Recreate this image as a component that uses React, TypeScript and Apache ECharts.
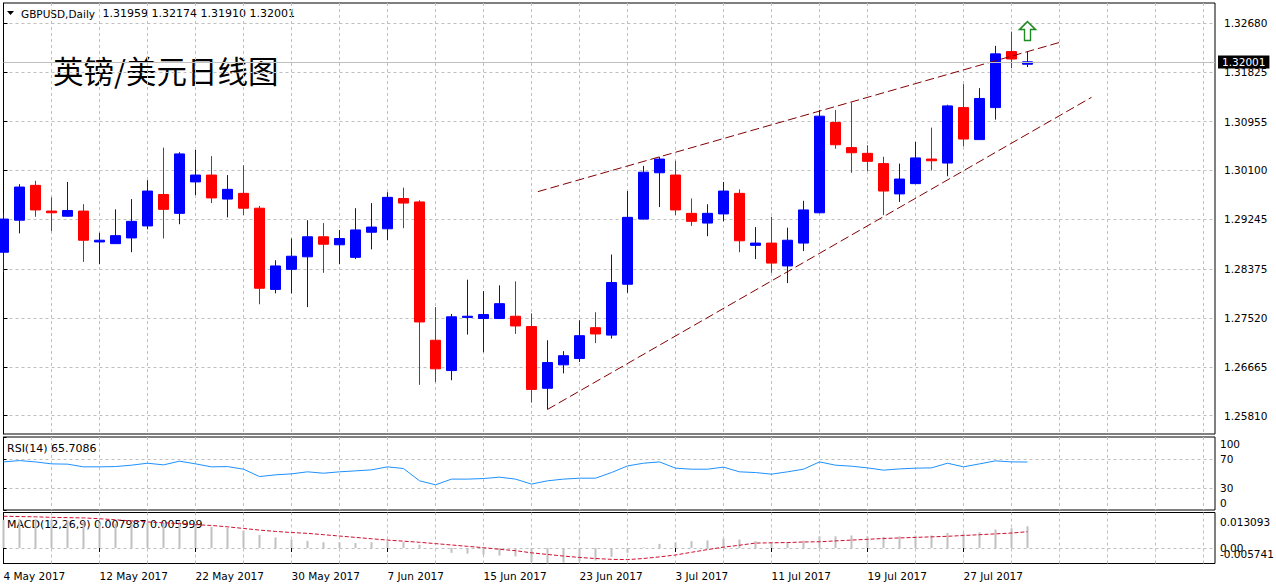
import React, { useEffect, useRef } from 'react';
import * as echarts from 'echarts';

// ---- data ----
const opens = [1.2867, 1.2923, 1.2984, 1.2939, 1.2930, 1.2939, 1.2885, 1.2882, 1.2892, 1.2913, 1.2968, 1.2935, 1.2990, 1.3002, 1.2960, 1.2970, 1.2944, 1.2802, 1.2837, 1.2859, 1.2894, 1.2880, 1.2858, 1.2902, 1.2908, 1.2961, 1.2955, 1.2713, 1.2660, 1.2753, 1.2751, 1.2751, 1.2755, 1.2737, 1.2629, 1.2670, 1.2681, 1.2735, 1.2722, 1.2811, 1.2925, 1.3006, 1.3002, 1.2935, 1.2918, 1.2934, 1.2970, 1.2879, 1.2883, 1.2843, 1.2883, 1.2936, 1.3094, 1.3050, 1.3040, 1.3022, 1.2969, 1.2987, 1.3030, 1.3023, 1.3120, 1.3064, 1.3120, 1.3218, 1.31959];
const highs = [1.2935, 1.2986, 1.2992, 1.2963, 1.2990, 1.2951, 1.2901, 1.2942, 1.2960, 1.2993, 1.3050, 1.3042, 1.3046, 1.3035, 1.3002, 1.3019, 1.2948, 1.2853, 1.2891, 1.2923, 1.2918, 1.2906, 1.2944, 1.2953, 1.2972, 1.2980, 1.2958, 1.2771, 1.2759, 1.2819, 1.2799, 1.2809, 1.2816, 1.2760, 1.2713, 1.2694, 1.2748, 1.2762, 1.2863, 1.2974, 1.3018, 1.3034, 1.3027, 1.2961, 1.2951, 1.2990, 1.2977, 1.2911, 1.2929, 1.2910, 1.2957, 1.3116, 1.3116, 1.3129, 1.3054, 1.3034, 1.3022, 1.3060, 1.3085, 1.3125, 1.3161, 1.3154, 1.3228, 1.3253, 1.32174];
const lows = [1.2832, 1.2900, 1.2929, 1.2904, 1.2929, 1.2850, 1.2846, 1.2882, 1.2867, 1.2907, 1.2891, 1.2916, 1.2967, 1.2953, 1.2928, 1.2932, 1.2776, 1.2795, 1.2795, 1.2771, 1.2831, 1.2846, 1.2855, 1.2872, 1.2888, 1.2909, 1.2635, 1.2640, 1.2643, 1.2723, 1.2692, 1.2751, 1.2724, 1.2604, 1.2592, 1.2655, 1.2675, 1.2708, 1.2716, 1.2796, 1.2924, 1.2946, 1.2932, 1.2913, 1.2895, 1.2921, 1.2867, 1.2855, 1.2831, 1.2813, 1.2869, 1.2935, 1.3048, 1.3006, 1.3009, 1.2932, 1.2955, 1.2986, 1.3010, 1.3000, 1.3052, 1.3064, 1.3099, 1.3189, 1.31910];
const closes = [1.2925, 1.2981, 1.2941, 1.2936, 1.2940, 1.2888, 1.2888, 1.2896, 1.2921, 1.2974, 1.2942, 1.3039, 1.3002, 1.2962, 1.2977, 1.2944, 1.2804, 1.2843, 1.2860, 1.2894, 1.2881, 1.2891, 1.2906, 1.2911, 1.2963, 1.2953, 1.2745, 1.2663, 1.2754, 1.2755, 1.2758, 1.2777, 1.2738, 1.2627, 1.2674, 1.2686, 1.2721, 1.2724, 1.2814, 1.2928, 1.3007, 1.3030, 1.2941, 1.2921, 1.2935, 1.2974, 1.2887, 1.2883, 1.2848, 1.2888, 1.2941, 1.3105, 1.3055, 1.3041, 1.3026, 1.2974, 1.2995, 1.3032, 1.3027, 1.3123, 1.3065, 1.3136, 1.3214, 1.3205, 1.32001];

const rsi = [65.9, 67.7, 65.9, 63.2, 62.8, 59.1, 59.1, 59.5, 61.4, 64.1, 61.8, 66.9, 63.2, 59.1, 59.5, 55.9, 45.8, 48.2, 49.5, 52.3, 50.4, 52.3, 53.6, 55.0, 59.1, 56.8, 40.0, 34.5, 42.3, 42.3, 43.1, 45.0, 42.3, 35.5, 40.0, 42.3, 43.6, 43.6, 51.3, 60.4, 64.1, 65.9, 57.3, 55.9, 55.9, 58.7, 52.3, 51.3, 49.1, 52.3, 55.9, 65.9, 61.4, 60.0, 57.7, 54.6, 56.3, 57.3, 57.7, 64.1, 59.1, 63.2, 67.3, 65.9, 65.7086];

const macdMain = [0.0104, 0.0106, 0.0106, 0.0104, 0.0102, 0.0097, 0.0093, 0.0090, 0.0090, 0.0093, 0.0092, 0.0098, 0.0090, 0.0078, 0.0074, 0.0064, 0.0048, 0.0039, 0.0031, 0.0026, 0.0021, 0.0021, 0.0018, 0.0021, 0.0025, 0.0021, 0.0012, 0.0001, -0.0018, -0.0021, -0.0025, -0.0028, -0.0031, -0.0052, -0.0057, -0.0054, -0.0050, -0.0046, -0.0033, -0.0018, 0.0002, 0.0015, 0.0021, 0.0025, 0.0028, 0.0034, 0.0031, 0.0025, 0.0021, 0.0021, 0.0027, 0.0043, 0.0043, 0.0046, 0.0043, 0.0041, 0.0043, 0.0046, 0.0046, 0.0055, 0.0053, 0.0058, 0.0068, 0.0073, 0.007987];
const macdSignal = [0.0117, 0.0116, 0.0115, 0.0113, 0.0112, 0.0111, 0.0108, 0.0104, 0.0100, 0.0096, 0.0093, 0.0090, 0.0086, 0.0083, 0.0078, 0.0072, 0.0066, 0.0061, 0.0057, 0.0054, 0.0049, 0.0044, 0.0039, 0.0034, 0.0029, 0.0025, 0.0021, 0.0016, 0.0011, 0.0006, 0.0001, -0.0005, -0.0010, -0.0018, -0.0024, -0.0030, -0.0035, -0.0039, -0.0042, -0.0043, -0.0039, -0.0033, -0.0026, -0.0016, -0.0006, 0.0003, 0.0010, 0.0018, 0.0019, 0.0020, 0.0022, 0.0023, 0.0026, 0.0029, 0.0032, 0.0035, 0.0037, 0.0039, 0.0041, 0.0043, 0.0046, 0.0049, 0.0052, 0.0055, 0.005999];

const priceTicks = [1.2581, 1.26665, 1.2752, 1.28375, 1.29245, 1.301, 1.30955, 1.31825, 1.3268];
const rsiTicks = [0, 30, 70, 100];
const rsiTickLabels = ['0', '30', '70', '100'];
const MACD_MIN = -0.005741;
const MACD_MAX = 0.013093;
const macdTicks = [MACD_MIN, 0, MACD_MAX];
const macdUpperLabelValues = [0, MACD_MAX];
const macdUpperLabels = ['0.00', '0.013093'];
const macdLowerLabelValues = [MACD_MIN];
const macdLowerLabels = ['-0.005741'];
const dateTicks = [0, 6, 12, 18, 24, 30, 36, 42, 48, 54, 60];
const dateLabels = ['4 May 2017', '12 May 2017', '22 May 2017', '30 May 2017', '7 Jun 2017', '15 Jun 2017', '23 Jun 2017', '3 Jul 2017', '11 Jul 2017', '19 Jul 2017', '27 Jul 2017'];

const bidPrice = 1.32001;
const trendUpper = [[33.4, 1.2973], [66.0, 1.3234]];
const trendLower = [[34.0, 1.2592], [68.0, 1.3138]];
const arrowPoint = [[64, 1.3254]];

const headerSymbol = 'GBPUSD,Daily';
const headerValues = '1.31959 1.32174 1.31910 1.32001';
const titleText = '英镑/美元日线图';
const rsiText = 'RSI(14) 65.7086';
const macdText = 'MACD(12,26,9) 0.007987 0.005999';

const PRICE_MIN = 1.2549;
const PRICE_MAX = 1.3303;
const X_MAX = 75.71875;
const FONT = 'DejaVu Sans';
const GRID_COLOR = '#c0c0c0';

function makeGrid(top: number, height: number) {
  return {
    left: 3.5,
    top,
    width: 1211.5,
    height,
    show: true,
    borderColor: '#000',
    borderWidth: 1,
    backgroundColor: '#fff',
    containLabel: false,
    outerBoundsMode: 'none',
  };
}

function splitX(gridIndex: number) {
  return {
    type: 'value',
    gridIndex,
    min: 0,
    max: X_MAX,
    interval: 3,
    position: 'bottom',
    axisLine: { show: false },
    axisTick: { show: false },
    axisLabel: { show: false },
    splitLine: {
      show: true,
      showMinLine: false,
      showMaxLine: false,
      lineStyle: { color: GRID_COLOR, type: [3, 3], width: 1 },
    },
  };
}

function pick(values: number[], labels: string[]) {
  return (v: number) => {
    const k = values.findIndex((t) => Math.abs(t - v) < 1e-9);
    return k >= 0 ? labels[k] : '';
  };
}

export default function App() {
  const ref = useRef<HTMLDivElement>(null);

  useEffect(() => {
    if (!ref.current) return;
    const chart = echarts.init(ref.current, null, { renderer: 'svg' });

    const candles = opens.map((o, i) => [i, o, closes[i], lows[i], highs[i]]);
    const rsiData = rsi.map((v, i) => [i, v]);
    const macdData = macdMain.map((v, i) => [i, v]);
    const signalData = macdSignal.map((v, i) => [i, v]);

    const axisLabelBase = { color: '#000', fontSize: 10.5, fontFamily: FONT, showMinLabel: true, showMaxLabel: true, hideOverlap: false };

    const option: any = {
      animation: false,
      backgroundColor: '#fff',
      textStyle: { fontFamily: FONT },
      grid: [makeGrid(3, 431), makeGrid(437, 73), makeGrid(512.5, 51)],
      xAxis: [
        splitX(0),
        splitX(1),
        splitX(2),
        {
          type: 'value',
          gridIndex: 2,
          min: 0,
          max: X_MAX,
          position: 'bottom',
          axisLine: { show: false },
          axisTick: { show: true, customValues: dateTicks, length: 4, lineStyle: { color: '#000' } },
          axisLabel: {
            ...axisLabelBase,
            customValues: dateTicks,
            formatter: pick(dateTicks, dateLabels),
            align: 'left',
            margin: 7,
          },
          splitLine: { show: false },
        },
      ],
      yAxis: [
        {
          type: 'value',
          gridIndex: 0,
          position: 'right',
          min: PRICE_MIN,
          max: PRICE_MAX,
          axisLine: { show: true, lineStyle: { color: '#000' } },
          axisTick: { show: true, customValues: priceTicks, length: 4, lineStyle: { color: '#000' } },
          axisLabel: {
            ...axisLabelBase,
            customValues: priceTicks,
            formatter: (v: number) => v.toFixed(5),
            margin: 9,
          },
          splitLine: { show: true, lineStyle: { color: GRID_COLOR, type: [3, 3], width: 1 } },
        },
        {
          type: 'value',
          gridIndex: 1,
          position: 'right',
          min: 0,
          max: 100,
          axisLine: { show: true, lineStyle: { color: '#000' } },
          axisTick: { show: true, customValues: rsiTicks, length: 3, lineStyle: { color: '#000' } },
          axisLabel: {
            ...axisLabelBase,
            customValues: rsiTicks,
            formatter: pick(rsiTicks, rsiTickLabels),
            margin: 5,
            lineHeight: 14,
            verticalAlignMinLabel: 'bottom',
            verticalAlignMaxLabel: 'top',
          },
          splitLine: {
            show: true,
            showMinLine: false,
            showMaxLine: false,
            lineStyle: { color: GRID_COLOR, type: [3, 3], width: 1 },
          },
        },
        {
          type: 'value',
          gridIndex: 2,
          position: 'right',
          min: MACD_MIN,
          max: MACD_MAX,
          axisLine: { show: true, lineStyle: { color: '#000' } },
          axisTick: { show: true, customValues: macdTicks, length: 3, lineStyle: { color: '#000' } },
          axisLabel: {
            ...axisLabelBase,
            customValues: macdUpperLabelValues,
            formatter: pick(macdUpperLabelValues, macdUpperLabels),
            margin: 5,
            lineHeight: 19,
            verticalAlignMaxLabel: 'top',
          },
          splitLine: {
            show: true,
            showMinLine: false,
            showMaxLine: false,
            lineStyle: { color: GRID_COLOR, type: [3, 3], width: 1 },
          },
        },
        {
          type: 'value',
          gridIndex: 2,
          position: 'right',
          min: MACD_MIN,
          max: MACD_MAX,
          axisLine: { show: false },
          axisTick: { show: false },
          axisLabel: {
            ...axisLabelBase,
            customValues: macdLowerLabelValues,
            formatter: pick(macdLowerLabelValues, macdLowerLabels),
            margin: 5,
            lineHeight: 19,
            verticalAlign: 'bottom',
            verticalAlignMinLabel: 'bottom',
            verticalAlignMaxLabel: 'bottom',
          },
          splitLine: { show: false },
        },
      ],
      series: [
        {
          type: 'candlestick',
          xAxisIndex: 0,
          yAxisIndex: 0,
          data: candles,
          barWidth: 10,
          clip: true,
          itemStyle: {
            color: '#0000ff',
            color0: '#ff0000',
            borderColor: '#0000ff',
            borderColor0: '#ff0000',
            borderColorDoji: '#0000ff',
            borderWidth: 1,
          },
          markLine: {
            silent: true,
            symbol: ['none', 'none'],
            animation: false,
            data: [{ yAxis: bidPrice }],
            lineStyle: { color: GRID_COLOR, type: 'solid', width: 1 },
            label: {
              show: true,
              position: 'end',
              distance: 3,
              formatter: () => bidPrice.toFixed(5),
              color: '#fff',
              backgroundColor: '#000',
              padding: [1, 4, 0, 4],
              fontSize: 10.5,
              lineHeight: 12,
              fontFamily: FONT,
            },
          },
          z: 3,
        },
        {
          type: 'line',
          xAxisIndex: 0,
          yAxisIndex: 0,
          data: trendUpper,
          symbol: 'none',
          lineStyle: { color: '#800000', width: 1, type: [9, 4] },
          z: 4,
        },
        {
          type: 'line',
          xAxisIndex: 0,
          yAxisIndex: 0,
          data: trendLower,
          symbol: 'none',
          lineStyle: { color: '#800000', width: 1, type: [9, 4] },
          z: 4,
        },
        {
          type: 'scatter',
          xAxisIndex: 0,
          yAxisIndex: 0,
          data: arrowPoint,
          symbol: 'path://M8,0 L16,8 L11,8 L11,19 L5,19 L5,8 L0,8 Z',
          symbolSize: [16, 19],
          itemStyle: { color: '#ffffff', borderColor: '#1f8a1f', borderWidth: 1.5, opacity: 1 },
          z: 5,
        },
        {
          type: 'line',
          xAxisIndex: 1,
          yAxisIndex: 1,
          data: rsiData,
          symbol: 'none',
          lineStyle: { color: '#1e90ff', width: 1 },
        },
        {
          type: 'bar',
          xAxisIndex: 2,
          yAxisIndex: 2,
          data: macdData,
          barWidth: 2,
          itemStyle: { color: GRID_COLOR },
        },
        {
          type: 'line',
          xAxisIndex: 2,
          yAxisIndex: 2,
          data: signalData,
          symbol: 'none',
          lineStyle: { color: '#d01030', width: 1, type: [4, 2] },
          z: 4,
        },
      ],
      graphic: [
        {
          type: 'polygon',
          shape: { points: [[7, 11], [14, 11], [10.5, 15]] },
          style: { fill: '#000' },
        },
        {
          type: 'text',
          x: 21,
          y: 13.8,
          style: { text: headerSymbol, fill: '#000', fontSize: 10.5, fontFamily: FONT, verticalAlign: 'middle', align: 'left' },
        },
        {
          type: 'text',
          x: 102.5,
          y: 13.8,
          style: { text: headerValues, fill: '#000', fontSize: 11, fontFamily: FONT, verticalAlign: 'middle', align: 'left' },
        },
        {
          type: 'text',
          x: 53,
          y: 69.5,
          style: { text: titleText, fill: '#000', fontSize: 30.5, fontFamily: 'Noto Sans CJK SC', verticalAlign: 'middle', align: 'left' },
        },
        {
          type: 'text',
          x: 7,
          y: 448,
          style: { text: rsiText, fill: '#000', fontSize: 11, fontFamily: FONT, verticalAlign: 'middle', align: 'left' },
        },
        {
          type: 'text',
          x: 7,
          y: 524,
          style: { text: macdText, fill: '#000', fontSize: 11, fontFamily: FONT, verticalAlign: 'middle', align: 'left' },
        },
      ],
    };

    chart.setOption(option);
    return () => {
      chart.dispose();
    };
  }, []);

  return (
    <div
      ref={ref}
      style={{ position: 'fixed', left: 0, top: 0, width: 1276, height: 588, background: '#fff' }}
    />
  );
}
